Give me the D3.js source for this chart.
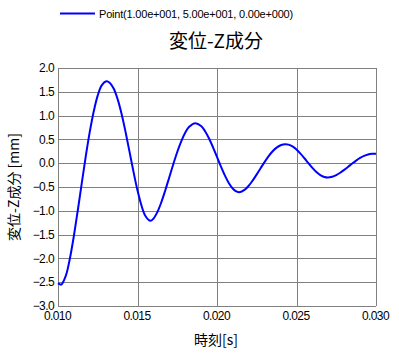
<!DOCTYPE html>
<html><head><meta charset="utf-8">
<script src="https://cdn.jsdelivr.net/npm/d3@7"></script>
<style>
html,body{margin:0;padding:0;background:#fff;}
svg{display:block;}
</style></head>
<body>
<svg id="c" width="399" height="354"></svg>
<script>
const seriesName = "Point(1.00e+001, 5.00e+001, 0.00e+000)";
const chartTitle = "変位-Z成分";
const xTitle = "時刻[s]";
const yTitle = "変位-Z成分 [mm]";
const xTicks = [0.010, 0.015, 0.020, 0.025, 0.030];
const yTicks = [-3.0, -2.5, -2.0, -1.5, -1.0, -0.5, 0.0, 0.5, 1.0, 1.5, 2.0];
const timeValues = [0.01000,0.01010,0.01020,0.01050,0.01075,0.01100,0.01125,0.01150,0.01175,0.01200,0.01225,0.01250,0.01275,0.01304,0.01325,0.01350,0.01375,0.01400,0.01425,0.01450,0.01475,0.01500,0.01525,0.01550,0.01581,0.01600,0.01625,0.01650,0.01675,0.01700,0.01725,0.01750,0.01775,0.01800,0.01825,0.01864,0.01900,0.01925,0.01950,0.01975,0.02000,0.02025,0.02050,0.02075,0.02100,0.02125,0.02140,0.02175,0.02200,0.02225,0.02250,0.02275,0.02300,0.02325,0.02350,0.02375,0.02400,0.02430,0.02450,0.02475,0.02500,0.02525,0.02550,0.02575,0.02600,0.02625,0.02650,0.02675,0.02696,0.02725,0.02750,0.02775,0.02800,0.02825,0.02850,0.02875,0.02900,0.02925,0.02950,0.02975,0.03000];
const dispValues = [-2.52,-2.54,-2.55,-2.355,-1.997,-1.524,-0.978,-0.408,0.152,0.662,1.092,1.425,1.635,1.720,1.691,1.568,1.345,1.034,0.654,0.237,-0.183,-0.572,-0.889,-1.108,-1.210,-1.167,-1.026,-0.819,-0.567,-0.295,-0.021,0.236,0.460,0.640,0.764,0.840,0.780,0.672,0.520,0.334,0.131,-0.073,-0.262,-0.421,-0.536,-0.599,-0.610,-0.556,-0.471,-0.360,-0.234,-0.101,0.029,0.148,0.250,0.328,0.378,0.400,0.390,0.352,0.287,0.202,0.104,0.001,-0.098,-0.184,-0.249,-0.289,-0.300,-0.284,-0.249,-0.200,-0.140,-0.075,-0.008,0.055,0.110,0.154,0.184,0.199,0.200];

const svg = d3.select("#c");
const L = 58, R = 376, T = 68, B = 306;
const x = d3.scaleLinear().domain([0.010, 0.030]).range([L, R]);
const y = d3.scaleLinear().domain([-3, 2]).range([B, T]);
const grid = "#808080";
const numFont = "'Liberation Sans', Arial, sans-serif";
const jpFont = "'Noto Sans CJK JP', sans-serif";

// grid
const g = svg.append("g");
g.selectAll("line.h").data(yTicks).enter().append("line")
  .attr("x1", L).attr("x2", R)
  .attr("y1", d => Math.round(y(d)) + 0.5).attr("y2", d => Math.round(y(d)) + 0.5)
  .attr("stroke", grid).attr("stroke-width", 1);
g.selectAll("line.v").data(xTicks).enter().append("line")
  .attr("y1", T).attr("y2", B)
  .attr("x1", d => Math.round(x(d)) + 0.5).attr("x2", d => Math.round(x(d)) + 0.5)
  .attr("stroke", grid).attr("stroke-width", 1);

// axes labels via d3 axes (no tick lines)
const yAxis = d3.axisLeft(y).tickValues(yTicks).tickFormat(d3.format(".1f")).tickSize(0).tickPadding(0);
const ya = svg.append("g").attr("transform", `translate(${L - 4},0)`).call(yAxis);
ya.select(".domain").remove();
ya.selectAll("text").attr("font-family", numFont).attr("font-size", 12).attr("fill", "#000")
  .attr("letter-spacing", "-0.6px").attr("dy", "0.3em");

const xAxis = d3.axisBottom(x).tickValues(xTicks).tickFormat(d3.format(".3f")).tickSize(0).tickPadding(0);
const xa = svg.append("g").attr("transform", `translate(-1,${B + 7})`).call(xAxis);
xa.select(".domain").remove();
xa.selectAll("text").attr("font-family", numFont).attr("font-size", 12).attr("fill", "#000")
  .attr("letter-spacing", "-0.6px").attr("dy", "0.62em");

// curve
const data = timeValues.map((t, i) => [t, dispValues[i]]);
const line = d3.line().x(d => x(d[0])).y(d => y(d[1])).curve(d3.curveCatmullRom.alpha(0.5));
svg.append("path").datum(data).attr("d", line)
  .attr("fill", "none").attr("stroke", "#0000ff").attr("stroke-width", 2);

// titles
svg.append("text").attr("x", 216).attr("y", 48).attr("text-anchor", "middle")
  .attr("font-family", jpFont).attr("font-size", 19).attr("fill", "#000").text(chartTitle);
svg.append("text").attr("x", 216).attr("y", 345).attr("text-anchor", "middle")
  .attr("font-family", jpFont).attr("font-size", 14).attr("fill", "#000").text(xTitle);
svg.append("text").attr("transform", `translate(19,187) rotate(-90)`).attr("text-anchor", "middle")
  .attr("font-family", jpFont).attr("font-size", 14).attr("fill", "#000").text(yTitle);

// legend
svg.append("line").attr("x1", 60).attr("x2", 95).attr("y1", 13.5).attr("y2", 13.5)
  .attr("stroke", "#0000ff").attr("stroke-width", 2);
svg.append("text").attr("x", 99).attr("y", 17.5)
  .attr("font-family", numFont).attr("font-size", 11).attr("letter-spacing", "-0.2px").attr("fill", "#000").text(seriesName);
</script>
</body></html>
